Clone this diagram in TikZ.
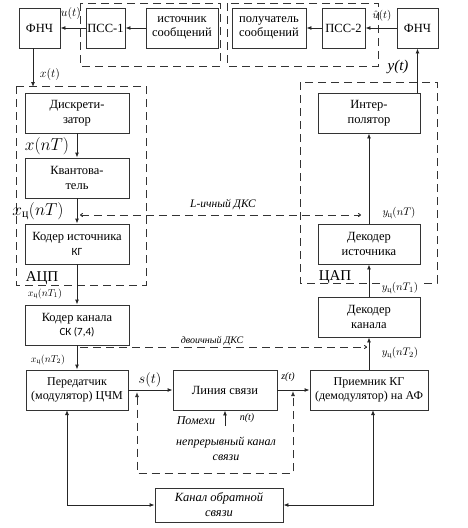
\documentclass[tikz,border=0pt]{standalone}
\usepackage{amsmath}
\usepackage{fontspec}
\setmainfont{Liberation Serif}
\newfontfamily\calib{Carlito}
\usetikzlibrary{arrows.meta}
\begin{document}
\begin{tikzpicture}[x=1pt,y=-1pt,
  blk/.style={draw=black!80, line width=0.9pt, align=center, inner sep=0pt,
    font=\fontsize{12.5}{14.5}\selectfont},
  arr/.style={draw=black!85, line width=0.9pt, -{Latex[length=5pt,width=4pt]}},
  darr/.style={draw=black!85, line width=0.9pt, {Latex[length=5pt,width=4pt]}-{Latex[length=5pt,width=4pt]}},
  dsh/.style={draw=black!80, line width=0.9pt, dash pattern=on 8pt off 5pt},
  lbl/.style={inner sep=0pt},
  itl/.style={inner sep=0pt, font=\fontsize{12}{15}\selectfont\itshape, align=center},
]
\useasboundingbox (0,0) rectangle (468,528);
% dashed groups
\draw[dsh] (80,3) rectangle (220,66);
\draw[dsh] (227,3) rectangle (378,66);
\draw[dsh] (16,86) rectangle (146,285);
\draw[dsh] (300,82) rectangle (437,283);

% boxes
\node[blk, minimum width=41, minimum height=40] (fnc1) at (39.5,28) {ФНЧ};
\node[blk, minimum width=39, minimum height=40] (pss1) at (105.5,28) {ПСС-1};
\node[blk, minimum width=72, minimum height=40] (src) at (182,28) {источник\\сообщений};
\node[blk, minimum width=74, minimum height=40] (rcv) at (269,28) {получатель\\сообщений};
\node[blk, minimum width=43, minimum height=40] (pss2) at (343.5,28) {ПСС-2};
\node[blk, minimum width=41, minimum height=40] (fnc2) at (417.5,28) {ФНЧ};

\node[blk, minimum width=104, minimum height=40] (disc) at (77,113) {Дискрети-\\затор};
\node[blk, minimum width=104, minimum height=40] (quant) at (77,178) {Квантова-\\тель};
\node[blk, minimum width=104, minimum height=40] (srcenc) at (77,244) {Кодер источника\\{\calib\fontsize{11}{14.5}\selectfont КГ}};
\node[blk, minimum width=104, minimum height=40] (chenc) at (77,325) {Кодер канала\\{\calib\fontsize{11}{14.5}\selectfont СК (7,4)}};
\node[blk, minimum width=102, minimum height=40, font=\fontsize{12}{14.5}\selectfont] (tx) at (77,390) {Передатчик\\(модулятор) ЦЧМ};
\node[blk, minimum width=104, minimum height=40] (line) at (225,390) {Линия связи};
\node[blk, minimum width=118, minimum height=40, font=\fontsize{12}{14.5}\selectfont] (rx) at (369,390) {Приемник КГ\\(демодулятор) на АФ};
\node[blk, minimum width=102, minimum height=40] (chdec) at (369,317) {Декодер\\канала};
\node[blk, minimum width=102, minimum height=40] (srcdec) at (369,244) {Декодер\\источника};
\node[blk, minimum width=102, minimum height=40] (interp) at (369,113) {Интер-\\полятор};
\node[blk, minimum width=128, minimum height=34, font=\fontsize{12.5}{15}\selectfont\itshape] (fb) at (219,505) {Канал обратной\\связи};

% top arrows
\draw[arr] (src.west) -- (pss1.east);
\draw[arr] (pss1.west) -- (fnc1.east);
\draw[arr] (fnc2.west) -- (pss2.east);
\draw[arr] (pss2.west) -- (rcv.east);

\coordinate (adcTop) at (33,87);
\draw[arr] (fnc1.south -| adcTop) -- (adcTop);

% left column
\draw[arr] (disc.south) -- (quant.north);
\draw[arr] (quant.south) -- (srcenc.north);
\draw[arr] (srcenc.south) -- (chenc.north);
\draw[arr] (chenc.south) -- (tx.north);
\draw[arr] (tx.east) -- (line.west);
\draw[arr] (line.east) -- (rx.west);

% right column
\draw[arr] (rx.north) -- (chdec.south);
\draw[arr] (chdec.north) -- (srcdec.south);
\draw[arr] (srcdec.north) -- (interp.south);
\draw[arr] (interp.north -| fnc2.south) -- (fnc2.south);

% noise
\coordinate (noise) at (225,426);
\draw[arr] (noise) -- (line.south);

% feedback
\coordinate (txfb) at (67,410);
\coordinate (rxfb) at (373,410);
\draw[darr] (txfb) |- (fb.west);
\draw[darr] (rxfb) |- (fb.east);

% continuous channel dashed
\coordinate (chLtop) at (137,392);
\coordinate (chLbot) at (137,473);
\coordinate (chRbot) at (293,473);
\coordinate (chRtop) at (293,391);
\draw[dsh, {Latex[length=5pt,width=4pt]}-{Latex[length=5pt,width=4pt]}] (chLtop) -- (chLbot) -- (chRbot) -- (chRtop);

% L-ary DCS
\coordinate (Ll) at (80,215);
\coordinate (Lr) at (361,215);
\draw[dsh, {To[length=3pt,width=4pt]}-{To[length=3pt,width=4pt]}] (Ll) -- (Lr);
% binary DCS
\coordinate (Bl) at (80,347);
\coordinate (Br) at (367,347);
\draw[dsh, -{To[length=3pt,width=4pt]}] (Bl) -- (Br);

% labels
\node[lbl, font=\fontsize{12}{14}\selectfont] (lu) at (71,13) {$u(t)$};
\node[lbl, font=\fontsize{11}{13}\selectfont] (lhu) at (382,16) {$\hat{u}(t)$};
\node[lbl, font=\fontsize{12}{14}\selectfont] (lxt) at (50,74) {$x(t)$};
\node[lbl, font=\fontsize{15}{17}\selectfont\itshape] (lyt) at (398,67) {y(t)};
\node[lbl, font=\fontsize{17}{19}\selectfont] (lxnT) at (47,146) {$x(nT)$};
\node[lbl, font=\fontsize{17}{19}\selectfont] (lxcnT) at (38,211) {$x_{\text{ц}}(nT)$};
\node[lbl, font=\fontsize{10}{12}\selectfont] (lxc1) at (45,294) {$x_{\text{ц}}(nT_1)$};
\node[lbl, font=\fontsize{10}{12}\selectfont] (lxc2) at (48,360) {$x_{\text{ц}}(nT_2)$};
\node[lbl, font=\fontsize{15}{17}\selectfont] (adc) at (42,278) {АЦП};
\node[lbl, font=\fontsize{15}{17}\selectfont] (dac) at (335,277) {ЦАП};
\node[lbl, font=\fontsize{11}{13}\selectfont] (lyc) at (399,213) {$y_{\text{ц}}(nT)$};
\node[lbl, font=\fontsize{11}{13}\selectfont, fill=white, inner xsep=2pt] (lyc1) at (400,288) {$y_{\text{ц}}(nT_1)$};
\node[lbl, font=\fontsize{11}{13}\selectfont] (lyc2) at (400,353) {$y_{\text{ц}}(nT_2)$};
\node[lbl, font=\fontsize{15}{17}\selectfont] (lst) at (150,380) {$s(t)$};
\node[lbl, font=\fontsize{10}{12}\selectfont\itshape] (lzt) at (288,377) {z(t)};
\node[itl] (noiselbl) at (196,421) {Помехи};
\node[lbl, font=\fontsize{10}{12}\selectfont\itshape] (lnt) at (247,418) {n(t)};
\node[itl] (contch) at (226,449) {непрерывный канал\\связи};
\node[itl, font=\fontsize{11.5}{14}\selectfont\itshape] (lLdcs) at (223,205) {L-ичный ДКС};
\node[itl, font=\fontsize{10}{12}\selectfont\itshape, fill=white, inner xsep=2pt] (lBdcs) at (212,341) {двоичный ДКС};
\end{tikzpicture}
\end{document}
